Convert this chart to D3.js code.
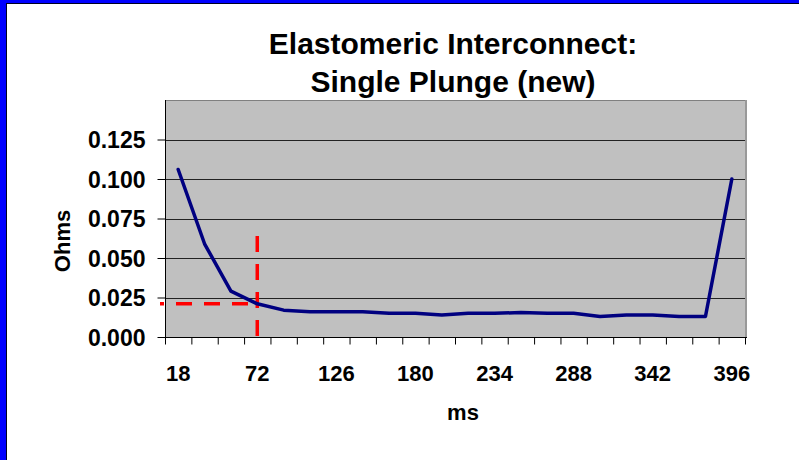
<!DOCTYPE html>
<html>
<head>
<meta charset="utf-8">
<script src="https://cdn.jsdelivr.net/npm/d3@7"></script>
<style>
  html, body { margin: 0; padding: 0; background: #fff; }
  svg { display: block; }
  text { font-family: "Liberation Sans", Arial, sans-serif; font-weight: bold; fill: #000; }
</style>
</head>
<body>
<svg id="chart" width="799" height="460"></svg>
<script>
// Sample times (ms) along the plunge
const categories = ["18","36","54","72","90","108","126","144","162","180","198",
                    "216","234","252","270","288","306","324","342","360","378","396"];
// Measured contact resistance (Ohms)
const ohms = [0.106, 0.059, 0.029, 0.021, 0.017, 0.016, 0.016, 0.016, 0.015, 0.015, 0.014,
              0.015, 0.015, 0.0155, 0.015, 0.015, 0.013, 0.014, 0.014, 0.013, 0.013, 0.100];
const yTicks = [0, 0.025, 0.05, 0.075, 0.1, 0.125];
const xTickLabels = ["18","72","126","180","234","288","342","396"];
const titleLines = ["Elastomeric Interconnect:", "Single Plunge (new)"];
// Reference crosshair at 72 ms
const markerCategory = "72";
const markerValue = 0.021;
const markerTop = 0.064;

const svg = d3.select("#chart");
const W = 799, H = 460;
const plot = { left: 165, right: 745, top: 100, bottom: 337 };

// Slide frame (top and left edges)
svg.append("rect").attr("x", 0).attr("y", 0).attr("width", W).attr("height", 3).attr("fill", "#0000ff");
svg.append("rect").attr("x", 0).attr("y", 0).attr("width", 6).attr("height", H).attr("fill", "#0000ff");
svg.append("line").attr("x1", 6).attr("x2", W).attr("y1", 3.5).attr("y2", 3.5).attr("stroke", "#000022").attr("stroke-width", 1);
svg.append("line").attr("x1", 6.5).attr("x2", 6.5).attr("y1", 3).attr("y2", H).attr("stroke", "#000022").attr("stroke-width", 1);

const x = d3.scaleBand().domain(categories).range([plot.left, plot.right]).padding(0);
const xEdge = d3.scaleLinear().domain([0, categories.length]).range([plot.left, plot.right]);
const y = d3.scaleLinear().domain([0, 0.15]).range([plot.bottom, plot.top]);
const cx = c => x(c) + x.bandwidth() / 2;

// Plot area
svg.append("rect")
  .attr("x", plot.left).attr("y", plot.top)
  .attr("width", plot.right - plot.left).attr("height", plot.bottom - plot.top)
  .attr("fill", "#c0c0c0");

// Horizontal gridlines
svg.append("g").selectAll("line").data(yTicks.filter(v => v > 0)).join("line")
  .attr("x1", plot.left).attr("x2", plot.right)
  .attr("y1", d => Math.round(y(d)) + 0.5).attr("y2", d => Math.round(y(d)) + 0.5)
  .attr("stroke", "#222").attr("stroke-width", 1);

// Plot border (top and right)
svg.append("line").attr("x1", plot.left).attr("x2", plot.right + 1)
  .attr("y1", plot.top + 0.5).attr("y2", plot.top + 0.5).attr("stroke", "#808080").attr("stroke-width", 1);
svg.append("line").attr("x1", plot.right + 1).attr("x2", plot.right + 1)
  .attr("y1", plot.top).attr("y2", plot.bottom).attr("stroke", "#999").attr("stroke-width", 2);

// Y axis
const yAxis = svg.append("g").attr("transform", `translate(${plot.left + 0.5},0)`)
  .call(d3.axisLeft(y).tickValues(yTicks).tickFormat(d3.format(".3f")).tickSize(8).tickPadding(12).tickSizeOuter(0));
yAxis.select(".domain").attr("stroke", "#000").attr("d", `M0,${plot.top}V${plot.bottom}`);
yAxis.selectAll(".tick line").attr("stroke", "#000");
yAxis.selectAll(".tick text").attr("font-size", 23).attr("font-family", null).attr("dy", "0.36em");

// X axis: tick marks between categories
const xTicks = svg.append("g").attr("transform", `translate(0,${plot.bottom + 0.5})`)
  .call(d3.axisBottom(xEdge).tickValues(d3.range(categories.length + 1)).tickFormat("").tickSize(7).tickSizeOuter(0));
xTicks.select(".domain").attr("stroke", "#000").attr("d", `M${plot.left},0H${plot.right + 2}`);
xTicks.selectAll(".tick line").attr("stroke", "#000");

// X axis: category labels
const xLabels = svg.append("g").attr("transform", `translate(0,${plot.bottom})`)
  .call(d3.axisBottom(x).tickValues(xTickLabels).tickSize(0).tickSizeOuter(0));
xLabels.select(".domain").remove();
xLabels.selectAll(".tick text").attr("font-size", 22).attr("font-family", null)
  .attr("y", 44).attr("dy", 0);

// Crosshair marker
const mx = cx(markerCategory);
svg.append("line")
  .attr("x1", plot.left - 5).attr("x2", mx)
  .attr("y1", y(markerValue)).attr("y2", y(markerValue))
  .attr("stroke", "#ff0000").attr("stroke-width", 3.5)
  .attr("stroke-dasharray", "16 12").attr("stroke-dashoffset", 12);
svg.append("line")
  .attr("x1", mx).attr("x2", mx)
  .attr("y1", y(markerTop)).attr("y2", y(0))
  .attr("stroke", "#ff0000").attr("stroke-width", 3.5)
  .attr("stroke-dasharray", "16 12");

// Resistance series
const line = d3.line().x((d, i) => cx(categories[i])).y(d => y(d));
svg.append("path").datum(ohms)
  .attr("d", line)
  .attr("fill", "none").attr("stroke", "#000080").attr("stroke-width", 3.5)
  .attr("stroke-linejoin", "round").attr("stroke-linecap", "round");

// Titles
svg.append("g").selectAll("text").data(titleLines).join("text")
  .attr("x", 453).attr("y", (d, i) => 54 + i * 38)
  .attr("text-anchor", "middle").attr("font-size", 30)
  .text(d => d);

svg.append("text")
  .attr("transform", "translate(70,241) rotate(-90)")
  .attr("text-anchor", "middle").attr("font-size", 22)
  .text("Ohms");

svg.append("text")
  .attr("x", 463).attr("y", 420)
  .attr("text-anchor", "middle").attr("font-size", 22)
  .text("ms");
</script>
</body>
</html>
